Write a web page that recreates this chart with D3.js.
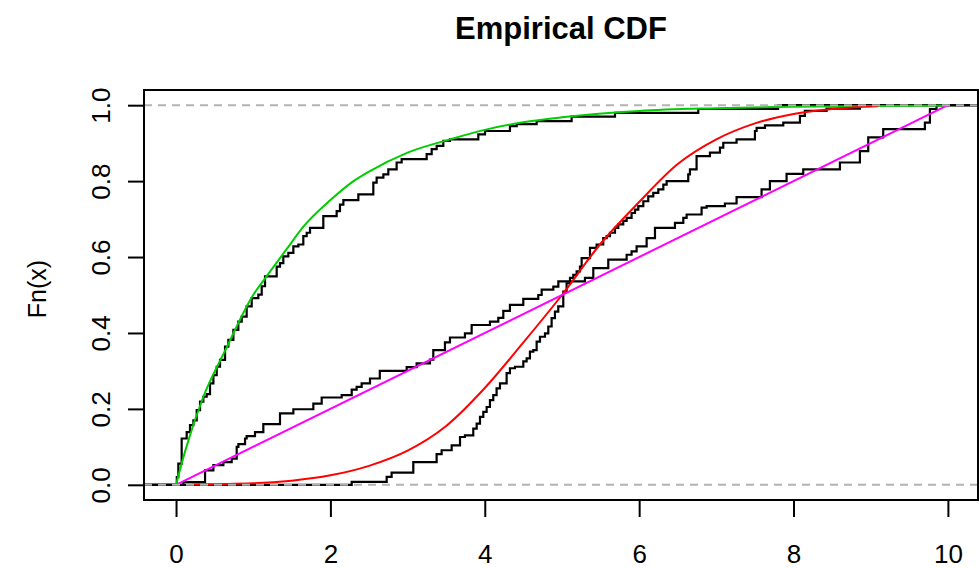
<!DOCTYPE html>
<html>
<head>
<meta charset="utf-8">
<script src="https://cdn.jsdelivr.net/npm/d3@7"></script>
<style>
  body { margin: 0; background: #fff; }
  text { font-family: "Liberation Sans", Arial, Helvetica, sans-serif; }
</style>
</head>
<body>
<div id="chart"></div>
<script>
// Axis ticks
const xTicks = [0, 2, 4, 6, 8, 10];
const yTicks = [0, 0.2, 0.4, 0.6, 0.8, 1];

// Empirical CDF of the exponential sample: jump positions and level after each jump
const expJumpX = [0.01, 0.03, 0.073, 0.138, 0.181, 0.225, 0.268, 0.311, 0.354, 0.397, 0.44, 0.484, 0.527, 0.57,
  0.635, 0.678, 0.743, 0.807, 0.851, 0.915, 0.98, 1.066, 1.11, 1.153, 1.304, 1.347, 1.39, 1.455, 1.52, 1.585,
  1.649, 1.693, 1.736, 1.908, 2.081, 2.124, 2.168, 2.362, 2.556, 2.599, 2.686, 2.75, 2.858, 2.923, 3.247, 3.312,
  3.377, 3.463, 3.549, 3.916, 4.003, 4.326, 4.413, 4.672, 5.125, 5.687, 6.766, 7.8];
const expJumpF = [0.02, 0.056, 0.122, 0.139, 0.157, 0.17, 0.197, 0.219, 0.232, 0.239, 0.267, 0.289, 0.311, 0.329,
  0.364, 0.382, 0.408, 0.43, 0.443, 0.47, 0.492, 0.501, 0.523, 0.549, 0.575, 0.584, 0.602, 0.611, 0.628, 0.633,
  0.655, 0.664, 0.677, 0.708, 0.721, 0.738, 0.75, 0.765, 0.796, 0.809, 0.818, 0.831, 0.849, 0.858, 0.871, 0.884,
  0.893, 0.906, 0.91, 0.923, 0.932, 0.945, 0.95, 0.958, 0.97, 0.98, 0.99, 1];

// Empirical CDF of the normal sample
const normJumpX = [2.276, 2.729, 2.793, 3.074, 3.376, 3.441, 3.571, 3.679, 3.743, 3.851, 3.895, 3.938, 3.981,
  4.024, 4.067, 4.11, 4.153, 4.197, 4.283, 4.326, 4.391, 4.499, 4.542, 4.585, 4.629, 4.672, 4.715, 4.78, 4.823,
  4.866, 4.909, 4.952, 5.017, 5.06, 5.104, 5.147, 5.19, 5.233, 5.255, 5.363, 5.449, 5.535, 5.579, 5.622, 5.687,
  5.73, 5.794, 5.838, 5.902, 5.946, 5.989, 6.054, 6.118, 6.183, 6.248, 6.313, 6.356, 6.636, 6.658, 6.744, 6.917,
  7.047, 7.09, 7.262, 7.5, 7.522, 7.63, 7.867, 8.083, 8.147, 8.428, 8.86];
const normJumpF = [0.008, 0.021, 0.032, 0.06, 0.081, 0.091, 0.104, 0.126, 0.13, 0.148, 0.161, 0.179, 0.192,
  0.205, 0.223, 0.236, 0.254, 0.267, 0.294, 0.307, 0.311, 0.325, 0.333, 0.351, 0.355, 0.377, 0.39, 0.399, 0.417,
  0.439, 0.456, 0.47, 0.509, 0.531, 0.545, 0.553, 0.562, 0.575, 0.597, 0.624, 0.633, 0.65, 0.655, 0.664, 0.677,
  0.686, 0.695, 0.703, 0.716, 0.725, 0.734, 0.747, 0.76, 0.769, 0.778, 0.791, 0.8, 0.818, 0.831, 0.866, 0.875,
  0.888, 0.901, 0.91, 0.932, 0.94, 0.947, 0.954, 0.972, 0.985, 0.991, 1];

// Empirical CDF of the uniform sample
const unifJumpX = [0.095, 0.376, 0.484, 0.613, 0.721, 0.786, 0.808, 0.894, 0.915, 1.023, 1.131, 1.347, 1.52,
  1.779, 1.887, 2.146, 2.276, 2.34, 2.405, 2.513, 2.64, 2.988, 3.117, 3.29, 3.333, 3.484, 3.549, 3.743, 3.83,
  4.067, 4.175, 4.24, 4.326, 4.499, 4.693, 4.737, 4.888, 4.953, 5.298, 5.406, 5.6, 5.838, 5.902, 5.967, 6.097,
  6.205, 6.464, 6.572, 6.615, 6.809, 6.874, 7.111, 7.262, 7.586, 7.694, 7.91, 8.126, 8.601, 8.86, 8.968, 9.162,
  9.702, 9.767, 9.853];
const unifJumpF = [0.007, 0.038, 0.052, 0.06, 0.069, 0.1, 0.107, 0.122, 0.128, 0.139, 0.16, 0.188, 0.199,
  0.214, 0.23, 0.236, 0.251, 0.258, 0.267, 0.28, 0.3, 0.31, 0.32, 0.33, 0.355, 0.375, 0.388, 0.399, 0.421,
  0.43, 0.44, 0.458, 0.474, 0.49, 0.5, 0.514, 0.522, 0.536, 0.545, 0.571, 0.593, 0.606, 0.615, 0.628, 0.65,
  0.677, 0.69, 0.703, 0.712, 0.73, 0.734, 0.741, 0.758, 0.778, 0.8, 0.819, 0.831, 0.849, 0.879, 0.915, 0.937,
  0.954, 0.99, 1];

// Fitted curves
const expCurveX = [0, 0.12, 0.35, 0.64, 1.0, 1.14, 1.43, 1.65, 2.0, 2.3, 2.5, 3.0, 3.55, 4.0, 4.5, 5.0, 6.0, 7.0, 8.0, 9.0, 10.0];
const expCurveF = [0, 0.09, 0.23, 0.355, 0.5, 0.54, 0.62, 0.68, 0.75, 0.8, 0.825, 0.875, 0.91, 0.935, 0.955, 0.968, 0.985, 0.992, 0.996, 0.998, 0.999];
const normCurveX = [0.2, 1.0, 1.5, 2.0, 2.5, 3.0, 3.5, 4.0, 4.5, 5.0, 5.5, 6.0, 6.5, 7.0, 7.5, 8.0, 8.5, 9.1];
const normCurveF = [0.001, 0.004, 0.011, 0.025, 0.05, 0.09, 0.155, 0.255, 0.375, 0.5, 0.635, 0.745, 0.845, 0.91, 0.952, 0.977, 0.99, 0.997];
const unifCurveX = [0, 10];
const unifCurveF = [0, 1];

function createEcdfChart() {
    // Size of the page and of the plot box
    const width = 979;
    const height = 569;
    const box = { left: 144, right: 978, top: 90, bottom: 500 };

    const x = d3.scaleLinear().domain([-0.415, 10.39]).range([box.left, box.right]);
    const y = d3.scaleLinear().domain([-0.04, 1.04]).range([box.bottom, box.top]);

    const svg = d3.select("#chart")
        .append("svg")
        .attr("width", width)
        .attr("height", height);

    svg.append("rect")
        .attr("width", width)
        .attr("height", height)
        .attr("fill", "#fff");

    svg.append("clipPath")
        .attr("id", "plot-clip")
        .append("rect")
        .attr("x", box.left)
        .attr("y", box.top)
        .attr("width", box.right - box.left)
        .attr("height", box.bottom - box.top);

    const plot = svg.append("g").attr("clip-path", "url(#plot-clip)");

    // Step lines for each sample, running out to the edges of the box
    const step = d3.line()
        .x(d => x(d[0]))
        .y(d => y(d[1]))
        .curve(d3.curveStepAfter);

    const ecdfs = [[expJumpX, expJumpF], [normJumpX, normJumpF], [unifJumpX, unifJumpF]];
    ecdfs.forEach(([xs, fs]) => {
        const pts = [[x.domain()[0], 0]].concat(xs.map((v, i) => [v, fs[i]]), [[x.domain()[1], 1]]);
        plot.append("path")
            .attr("d", step(pts))
            .attr("fill", "none")
            .attr("stroke", "#000")
            .attr("stroke-width", 2.2);
    });

    // Fitted distribution curves
    const smooth = d3.line()
        .x(d => x(d[0]))
        .y(d => y(d[1]))
        .curve(d3.curveMonotoneX);

    const curves = [
        [expCurveX, expCurveF, "#00cd00"],
        [normCurveX, normCurveF, "#ff0000"],
        [unifCurveX, unifCurveF, "#ff00ff"]
    ];
    curves.forEach(([xs, fs, col]) => {
        plot.append("path")
            .attr("d", smooth(xs.map((v, i) => [v, fs[i]])))
            .attr("fill", "none")
            .attr("stroke", col)
            .attr("stroke-width", 2);
    });

    // Dashed lines at 0 and 1
    plot.selectAll(".hline")
        .data([0, 1])
        .enter().append("line")
        .attr("class", "hline")
        .attr("x1", box.left)
        .attr("x2", box.right)
        .attr("y1", d => y(d))
        .attr("y2", d => y(d))
        .attr("stroke", "#b3b3b3")
        .attr("stroke-width", 2)
        .attr("stroke-dasharray", "8,6");

    // Axes
    const xAxis = svg.append("g")
        .attr("transform", `translate(0,${box.bottom})`)
        .call(d3.axisBottom(x).tickValues(xTicks).tickSize(17).tickFormat(d3.format("d")));
    xAxis.select(".domain").remove();
    xAxis.selectAll("line").attr("stroke", "#000").attr("stroke-width", 2);
    xAxis.selectAll("text")
        .attr("y", 63)
        .attr("dy", null)
        .attr("fill", "#000")
        .style("font-size", "26px");

    const yAxis = svg.append("g")
        .attr("transform", `translate(${box.left},0)`)
        .call(d3.axisLeft(y).tickValues(yTicks).tickSize(16).tickFormat(d3.format(".1f")));
    yAxis.select(".domain").remove();
    yAxis.selectAll("line").attr("stroke", "#000").attr("stroke-width", 2);
    yAxis.selectAll("text")
        .attr("x", 0)
        .attr("y", -34)
        .attr("dy", null)
        .attr("transform", "rotate(-90)")
        .attr("text-anchor", "middle")
        .attr("fill", "#000")
        .style("font-size", "26px");

    // Box around the plot
    svg.append("rect")
        .attr("x", box.left)
        .attr("y", box.top)
        .attr("width", box.right - box.left)
        .attr("height", box.bottom - box.top)
        .attr("fill", "none")
        .attr("stroke", "#000")
        .attr("stroke-width", 2);

    // Title and y label
    svg.append("text")
        .attr("x", (box.left + box.right) / 2)
        .attr("y", 39)
        .attr("text-anchor", "middle")
        .style("font-size", "31px")
        .style("font-weight", "bold")
        .text("Empirical CDF");

    svg.append("text")
        .attr("transform", `translate(46,${(box.top + box.bottom) / 2 - 6}) rotate(-90)`)
        .attr("text-anchor", "middle")
        .style("font-size", "25px")
        .text("Fn(x)");
}

createEcdfChart();
</script>
</body>
</html>
